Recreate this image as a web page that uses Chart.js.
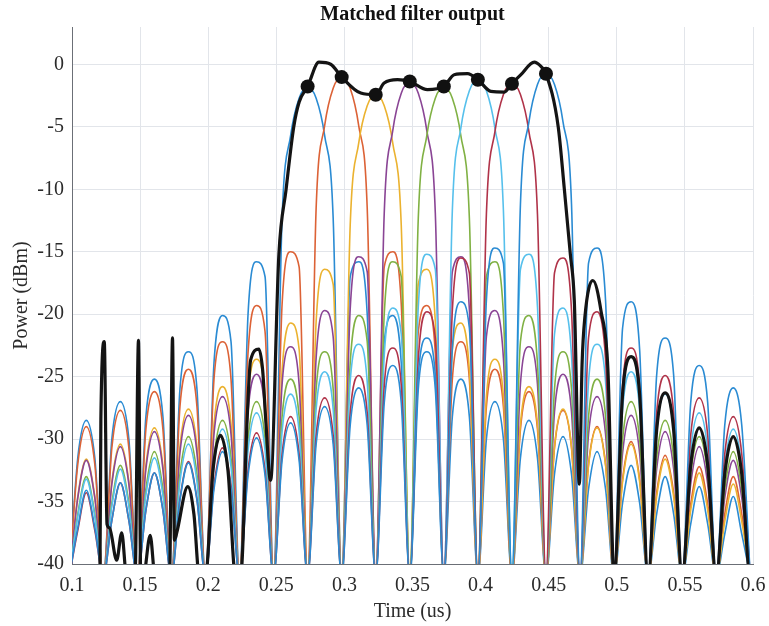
<!DOCTYPE html>
<html>
<head>
<meta charset="utf-8">
<script src="https://cdn.jsdelivr.net/npm/chart.js@4.4.1/dist/chart.umd.min.js"></script>
<style>
  html, body { margin: 0; padding: 0; background: #fff; }
</style>
</head>
<body>
<canvas id="mf" width="769" height="626"></canvas>
<script>
(function () {

// -------------------------------------------------------------------------------------------------------
// data (time in us, power in dBm)

var timeUs = [
    0.098, 0.10425, 0.1105, 0.11675, 0.123, 0.12925, 0.1355, 0.14175, 0.148, 0.15425,
    0.1605, 0.16675, 0.173, 0.17925, 0.1855, 0.19175, 0.198, 0.20425, 0.2105, 0.21675,
    0.223, 0.22925, 0.2355, 0.24175, 0.248, 0.25425, 0.2605, 0.26675, 0.273, 0.27925,
    0.2855, 0.29175, 0.298, 0.30425, 0.3105, 0.31675, 0.323, 0.32925, 0.3355, 0.34175,
    0.348, 0.35425, 0.3605, 0.36675, 0.373, 0.37925, 0.3855, 0.39175, 0.398, 0.40425,
    0.4105, 0.41675, 0.423, 0.42925, 0.4355, 0.44175, 0.448, 0.45425, 0.4605, 0.46675,
    0.473, 0.47925, 0.4855, 0.49175, 0.498, 0.50425, 0.5105, 0.51675, 0.523, 0.52925,
    0.5355, 0.54175, 0.548, 0.55425, 0.5605, 0.56675, 0.573, 0.57925, 0.5855, 0.59175,
    0.598
];

var pulse1 = [
    -41, -31.5, -28.5, -31.5, -41, -30.0, -27.0, -30.0, -41, -28.2, -25.2, -28.2, -41, -26.0, -23.0, -26.0,
    -41, -23.9, -20.1, -22.2, -41, -20.0, -15.8, -17.0, -41, -12.3, -5.7, -2.7, -1.8, -2.7, -5.7, -12.3,
    -41, -17.0, -15.8, -20.0, -41, -22.2, -20.1, -23.9, -41, -26.0, -23.0, -26.0, -41, -28.2, -25.2, -28.2,
    -41, -30.0, -27.0, -30.0, -41, -31.5, -28.5, -31.5, -41, -32.8, -29.8, -32.8, -41, -34.0, -31.0, -34.0,
    -41, -35.1, -32.1, -35.1, -41, -36.0, -33.0, -36.0, -41, -36.8, -33.8, -36.8, -41, -37.6, -34.6, -37.6,
    -41
];
var pulse2 = [
    -41, -32.0, -29.0, -32.0, -41, -30.7, -27.7, -30.7, -41, -29.2, -26.2, -29.2, -41, -27.4, -24.4, -27.4,
    -41, -25.2, -22.2, -25.2, -41, -23.1, -19.3, -21.4, -41, -19.2, -15.0, -16.2, -41, -11.5, -4.9, -1.9,
    -1.0, -1.9, -4.9, -11.5, -41, -16.2, -15.0, -19.2, -41, -21.4, -19.3, -23.1, -41, -25.2, -22.2, -25.2,
    -41, -27.4, -24.4, -27.4, -41, -29.2, -26.2, -29.2, -41, -30.7, -27.7, -30.7, -41, -32.0, -29.0, -32.0,
    -41, -33.2, -30.2, -33.2, -41, -34.3, -31.3, -34.3, -41, -35.2, -32.2, -35.2, -41, -36.0, -33.0, -36.0,
    -41
];
var pulse3 = [
    -41, -34.6, -31.6, -34.6, -41, -33.4, -30.4, -33.4, -41, -32.1, -29.1, -32.1, -41, -30.6, -27.6, -30.6,
    -41, -28.8, -25.8, -28.8, -41, -26.6, -23.6, -26.6, -41, -24.5, -20.7, -22.8, -41, -20.6, -16.4, -17.6,
    -41, -12.9, -6.3, -3.3, -2.4, -3.3, -6.3, -12.9, -41, -17.6, -16.4, -20.6, -41, -22.8, -20.7, -24.5,
    -41, -26.6, -23.6, -26.6, -41, -28.8, -25.8, -28.8, -41, -30.6, -27.6, -30.6, -41, -32.1, -29.1, -32.1,
    -41, -33.4, -30.4, -33.4, -41, -34.6, -31.6, -34.6, -41, -35.7, -32.7, -35.7, -41, -36.6, -33.6, -36.6,
    -41
];
var pulse4 = [
    -41, -34.7, -31.7, -34.7, -41, -33.6, -30.6, -33.6, -41, -32.4, -29.4, -32.4, -41, -31.1, -28.1, -31.1,
    -41, -29.6, -26.6, -29.6, -41, -27.8, -24.8, -27.8, -41, -25.6, -22.6, -25.6, -41, -23.5, -19.7, -21.8,
    -41, -19.6, -15.4, -16.6, -41, -11.9, -5.3, -2.3, -1.4, -2.3, -5.3, -11.9, -41, -16.6, -15.4, -19.6,
    -41, -21.8, -19.7, -23.5, -41, -25.6, -22.6, -25.6, -41, -27.8, -24.8, -27.8, -41, -29.6, -26.6, -29.6,
    -41, -31.1, -28.1, -31.1, -41, -32.4, -29.4, -32.4, -41, -33.6, -30.6, -33.6, -41, -34.7, -31.7, -34.7,
    -41
];
var pulse5 = [
    -41, -36.0, -33.0, -36.0, -41, -35.1, -32.1, -35.1, -41, -34.0, -31.0, -34.0, -41, -32.8, -29.8, -32.8,
    -41, -31.5, -28.5, -31.5, -41, -30.0, -27.0, -30.0, -41, -28.2, -25.2, -28.2, -41, -26.0, -23.0, -26.0,
    -41, -23.9, -20.1, -22.2, -41, -20.0, -15.8, -17.0, -41, -12.3, -5.7, -2.7, -1.8, -2.7, -5.7, -12.3,
    -41, -17.0, -15.8, -20.0, -41, -22.2, -20.1, -23.9, -41, -26.0, -23.0, -26.0, -41, -28.2, -25.2, -28.2,
    -41, -30.0, -27.0, -30.0, -41, -31.5, -28.5, -31.5, -41, -32.8, -29.8, -32.8, -41, -34.0, -31.0, -34.0,
    -41
];
var pulse6 = [
    -41, -36.2, -33.2, -36.2, -41, -35.4, -32.4, -35.4, -41, -34.5, -31.5, -34.5, -41, -33.4, -30.4, -33.4,
    -41, -32.2, -29.2, -32.2, -41, -30.9, -27.9, -30.9, -41, -29.4, -26.4, -29.4, -41, -27.6, -24.6, -27.6,
    -41, -25.4, -22.4, -25.4, -41, -23.3, -19.5, -21.6, -41, -19.4, -15.2, -16.4, -41, -11.7, -5.1, -2.1,
    -1.2, -2.1, -5.1, -11.7, -41, -16.4, -15.2, -19.4, -41, -21.6, -19.5, -23.3, -41, -25.4, -22.4, -25.4,
    -41, -27.6, -24.6, -27.6, -41, -29.4, -26.4, -29.4, -41, -30.9, -27.9, -30.9, -41, -32.2, -29.2, -32.2,
    -41
];
var pulse7 = [
    -41, -37.3, -34.3, -37.3, -41, -36.5, -33.5, -36.5, -41, -35.7, -32.7, -35.7, -41, -34.8, -31.8, -34.8,
    -41, -33.7, -30.7, -33.7, -41, -32.5, -29.5, -32.5, -41, -31.2, -28.2, -31.2, -41, -29.7, -26.7, -29.7,
    -41, -27.9, -24.9, -27.9, -41, -25.7, -22.7, -25.7, -41, -23.6, -19.8, -21.9, -41, -19.7, -15.5, -16.7,
    -41, -12.0, -5.4, -2.4, -1.5, -2.4, -5.4, -12.0, -41, -16.7, -15.5, -19.7, -41, -21.9, -19.8, -23.6,
    -41, -25.7, -22.7, -25.7, -41, -27.9, -24.9, -27.9, -41, -29.7, -26.7, -29.7, -41, -31.2, -28.2, -31.2,
    -41
];
var pulse8 = [
    -41, -37.1, -34.1, -37.1, -41, -36.5, -33.5, -36.5, -41, -35.7, -32.7, -35.7, -41, -34.9, -31.9, -34.9,
    -41, -34.0, -31.0, -34.0, -41, -32.9, -29.9, -32.9, -41, -31.7, -28.7, -31.7, -41, -30.4, -27.4, -30.4,
    -41, -28.9, -25.9, -28.9, -41, -27.1, -24.1, -27.1, -41, -24.9, -21.9, -24.9, -41, -22.8, -19.0, -21.1,
    -41, -18.9, -14.7, -15.9, -41, -11.2, -4.6, -1.6, -0.7, -1.6, -4.6, -11.2, -41, -15.9, -14.7, -18.9,
    -41, -21.1, -19.0, -22.8, -41, -24.9, -21.9, -24.9, -41, -27.1, -24.1, -27.1, -41, -28.9, -25.9, -28.9,
    -41
];

// summed output (black trace)
var sumTime = [
    0.098, 0.1205, 0.1212, 0.1237, 0.1257, 0.1275, 0.1328, 0.1365, 0.1401, 0.1463,
    0.1488, 0.1505, 0.1524, 0.1574, 0.161, 0.1716, 0.1738, 0.1752, 0.1769, 0.185,
    0.1895, 0.1935, 0.198, 0.2035, 0.209, 0.2145, 0.2201, 0.2238, 0.2287, 0.2311,
    0.2372, 0.24, 0.2421, 0.2458, 0.2519, 0.2572, 0.2628, 0.2668, 0.273, 0.2813,
    0.2899, 0.298, 0.312, 0.323, 0.3292, 0.339, 0.348, 0.361, 0.373, 0.3806,
    0.3904, 0.398, 0.4076, 0.4174, 0.423, 0.4296, 0.4394, 0.4443, 0.448, 0.457,
    0.4615, 0.4659, 0.4688, 0.4725, 0.4745, 0.4765, 0.4824, 0.4885, 0.4935, 0.498,
    0.50425, 0.5105, 0.51675, 0.523, 0.52925, 0.5355, 0.54175, 0.548, 0.55425, 0.5605,
    0.56675, 0.573, 0.57925, 0.5855, 0.59175, 0.598, 0.6
];
var sumPower = [
    -41, -41, -28.4, -22.2, -36.8, -37.1, -39.7, -37.5, -41, -41,
    -22.1, -41, -41, -37.7, -41, -41, -21.9, -38.1, -37.5, -33.8,
    -36.0, -41, -41, -32.5, -29.7, -32.5, -41, -41, -28.1, -23.7,
    -22.8, -24.5, -28.2, -33.3, -15.2, -10.0, -5.0, -3.0, -1.76, 0.18,
    0.02, -1.01, -2.29, -2.42, -1.49, -1.22, -1.36, -2.02, -1.76, -0.82,
    -0.74, -1.22, -2.16, -2.21, -1.54, -0.82, 0.18, -0.16, -0.74, -5.0,
    -10.0, -15.2, -18.9, -33.6, -24.0, -20.3, -17.3, -19.8, -24.5, -41,
    -26.4, -23.4, -26.4, -41, -29.3, -26.3, -29.3, -41, -32.1, -29.1,
    -32.1, -41, -32.8, -29.8, -32.8, -41, -41
];

// peak markers
var peakTime  = [0.273, 0.298, 0.323, 0.348, 0.373, 0.398, 0.423, 0.448];
var peakPower = [-1.76, -1.01, -2.42, -1.36, -1.76, -1.22, -1.54, -0.74];

var xTicks = [0.1, 0.15, 0.2, 0.25, 0.3, 0.35, 0.4, 0.45, 0.5, 0.55, 0.6];
var yTicks = [-40, -35, -30, -25, -20, -15, -10, -5, 0];

var pulses = [pulse1, pulse2, pulse3, pulse4, pulse5, pulse6, pulse7, pulse8];
var pulseColors = ['#2a8bd3', '#dc6236', '#ebb22f', '#8a4595', '#80b144', '#56c0ec', '#b03349', '#2a8bd3'];

// -------------------------------------------------------------------------------------------------------

var serif = "'Liberation Serif', 'DejaVu Serif', 'Times New Roman', serif";
Chart.defaults.font.family = serif;
Chart.defaults.color = '#2b2b2b';

function pairs(xs, ys) {
    return xs.map(function (x, i) { return { x: x, y: ys[i] }; });
}

var datasets = [{
    type: 'scatter',
    data: pairs(peakTime, peakPower),
    pointRadius: 7,
    pointBackgroundColor: '#111',
    pointBorderWidth: 0,
    order: 0
}, {
    data: pairs(sumTime, sumPower),
    borderColor: '#141414',
    borderWidth: 3.2,
    pointRadius: 0,
    cubicInterpolationMode: 'monotone',
    clip: 0,
    order: 1
}];

pulses.forEach(function (p, k) {
    datasets.push({
        data: pairs(timeUs, p),
        borderColor: pulseColors[k],
        borderWidth: 1.6,
        pointRadius: 0,
        cubicInterpolationMode: 'monotone',
        clip: 0,
        order: 10 - k
    });
});

var canvas = document.getElementById('mf');
var ctx = canvas.getContext('2d');

new Chart(ctx, {
    type: 'line',
    data: { datasets: datasets },
    options: {
        responsive: false,
        animation: false,
        devicePixelRatio: 1,
        layout: { padding: { left: 10, right: 16, top: 0, bottom: 0 } },
        plugins: {
            legend: { display: false },
            tooltip: { enabled: false },
            title: {
                display: true,
                text: 'Matched filter output',
                fullSize: false,
                color: '#111',
                font: { size: 20, weight: 'bold', family: serif },
                padding: { top: 3, bottom: 0 }
            }
        },
        scales: {
            x: {
                type: 'linear',
                min: 0.1,
                max: 0.6,
                afterBuildTicks: function (s) { s.ticks = xTicks.map(function (v) { return { value: v }; }); },
                afterFit: function (s) {
                    s.height = 62;
                    s.paddingRight = 0;
                },
                ticks: {
                    font: { size: 20 },
                    padding: 10,
                    maxRotation: 0,
                    callback: function (v) { return String(+v.toFixed(2)); }
                },
                grid: { color: '#e2e5ea', drawTicks: false },
                border: { color: '#6b6f76', width: 1 },
                title: { display: true, text: 'Time (us)', font: { size: 20 }, padding: { top: 0, bottom: 2 } }
            },
            y: {
                type: 'linear',
                min: -40,
                max: 3,
                afterBuildTicks: function (s) { s.ticks = yTicks.map(function (v) { return { value: v }; }); },
                afterFit: function (s) { s.width = 62; },
                ticks: {
                    font: { size: 20 },
                    padding: 8
                },
                grid: { color: '#e2e5ea', drawTicks: false },
                border: { color: '#6b6f76', width: 1 },
                title: { display: true, text: 'Power (dBm)', font: { size: 20 }, padding: { top: 0, bottom: 0 } }
            }
        }
    }
});

// -------------------------------------------------------------------------------------------------------

})();
</script>
</body>
</html>
